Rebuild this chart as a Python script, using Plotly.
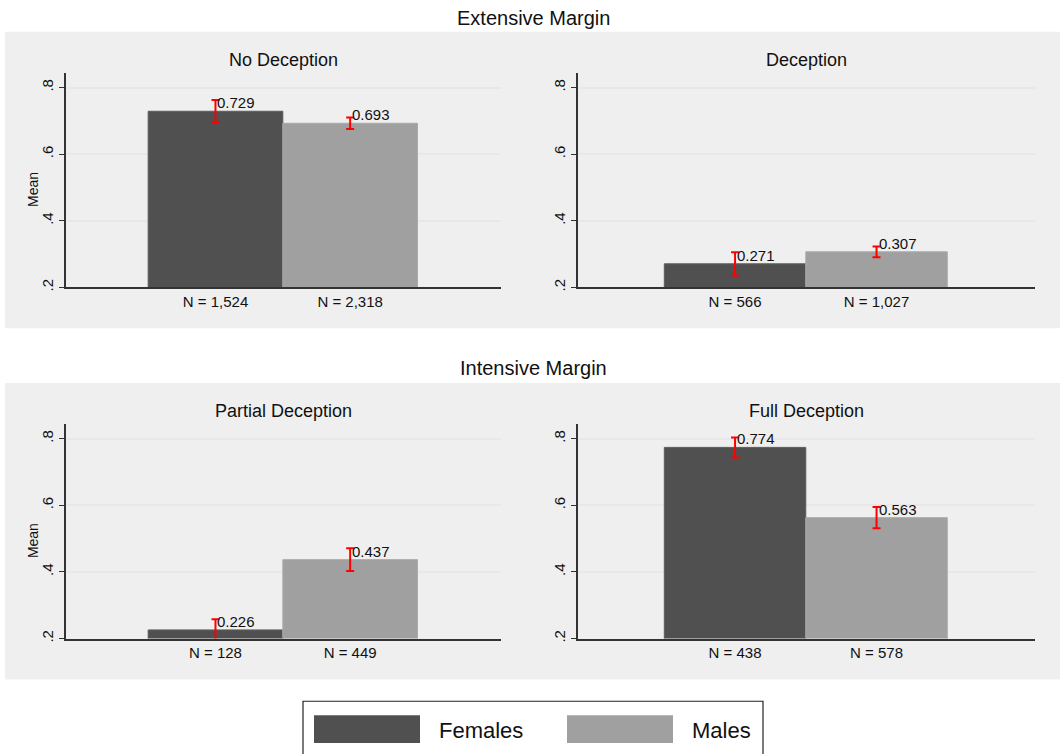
import plotly.graph_objects as go

# ---- data -------------------------------------------------------------
panels = ["No Deception", "Deception", "Partial Deception", "Full Deception"]
row_titles = ["Extensive Margin", "Intensive Margin"]
groups = ["Females", "Males"]
female_mean = [0.729, 0.271, 0.226, 0.774]
male_mean = [0.693, 0.307, 0.437, 0.563]
female_ci = [0.034, 0.035, 0.032, 0.030]
male_ci = [0.017, 0.016, 0.034, 0.032]
female_n = ["1,524", "566", "128", "438"]
male_n = ["2,318", "1,027", "449", "578"]
y_ticks = [0.2, 0.4, 0.6, 0.8]
y_tick_text = [".2", ".4", ".6", ".8"]

# ---- styling / layout -------------------------------------------------
W, H = 1064, 754
FONT = "Liberation Sans, Arial, sans-serif"
COLORS = ["#505050", "#a0a0a0"]
PANEL_BG = "#efefef"
AXIS_COL = "#333333"
GRID_COL = "#e8e8e8"


def px_x(p):
    return p / W


def px_y(p):
    return 1 - p / H


# plot areas in pixel coordinates: (left, right, top, bottom)
areas = [
    (66, 501, 73, 289),
    (578, 1035, 73, 289),
    (66, 501, 426, 642),
    (578, 1035, 426, 642),
]
# gray backgrounds per row: (left, right, top, bottom)
row_bg = [(5, 1060, 32, 330), (5, 1060, 385, 683)]
row_title_y = [18, 370]

fig = go.Figure()
layout = dict(
    width=W,
    height=H,
    margin=dict(l=0, r=0, t=0, b=0),
    paper_bgcolor="white",
    plot_bgcolor="white",
    showlegend=False,
    font=dict(family=FONT, color="#111111"),
)
shapes = []
annotations = []

for (l, r, t, b) in row_bg:
    shapes.append(dict(type="rect", xref="paper", yref="paper",
                       x0=px_x(l), x1=px_x(r), y0=px_y(b), y1=px_y(t),
                       fillcolor=PANEL_BG, line=dict(width=0), layer="below"))

for i, title in enumerate(row_titles):
    annotations.append(dict(text=title, xref="paper", yref="paper",
                            x=px_x(533), y=px_y(row_title_y[i]),
                            xanchor="center", yanchor="middle", showarrow=False,
                            font=dict(size=20, family=FONT, color="#111111")))

for k, name in enumerate(panels):
    l, r, t, b = areas[k]
    xa = "xaxis" if k == 0 else f"xaxis{k + 1}"
    ya = "yaxis" if k == 0 else f"yaxis{k + 1}"
    xr = "x" if k == 0 else f"x{k + 1}"
    yr = "y" if k == 0 else f"y{k + 1}"

    means = [female_mean[k], male_mean[k]]
    cis = [female_ci[k], male_ci[k]]
    fig.add_trace(go.Bar(
        x=[0, 1], y=means, width=1.0, xaxis=xr, yaxis=yr,
        marker=dict(color=COLORS, line=dict(color=["#5c5c5c", "#aaaaaa"], width=1)),
        error_y=dict(type="data", array=cis, visible=True,
                     color="#ff0000", thickness=2, width=4),
        hoverinfo="skip",
    ))

    layout[xa] = dict(
        domain=[px_x(l), px_x(r)], anchor=yr, range=[-1.11, 2.12],
        tickvals=[0, 1], ticktext=[f"N = {female_n[k]}", f"N = {male_n[k]}"],
        ticks="", showgrid=False, zeroline=False, showline=True,
        linecolor=AXIS_COL, linewidth=1.5,
        tickfont=dict(size=15, family=FONT, color="#111111"),
        fixedrange=True,
    )
    layout[ya] = dict(
        domain=[px_y(b), px_y(t)], anchor=xr, range=[0.2, 0.845],
        tickvals=y_ticks, ticktext=y_tick_text, tickangle=-90,
        ticks="outside", ticklen=5, tickcolor=AXIS_COL,
        showgrid=True, gridcolor=GRID_COL, gridwidth=1.5, zeroline=False,
        showline=True, linecolor=AXIS_COL, linewidth=1.5,
        tickfont=dict(size=15, family=FONT, color="#111111"),
        fixedrange=True,
    )

    # panel title
    annotations.append(dict(text=name, xref="paper", yref="paper",
                            x=px_x((l + r) / 2), y=px_y(t - 13),
                            xanchor="center", yanchor="middle", showarrow=False,
                            font=dict(size=18, family=FONT, color="#111111")))
    # y-axis title on the left column
    if k % 2 == 0:
        annotations.append(dict(text="Mean", xref="paper", yref="paper",
                                x=px_x(33), y=px_y((t + b) / 2 + 10),
                                xanchor="center", yanchor="middle", showarrow=False,
                                textangle=-90,
                                font=dict(size=14, family=FONT, color="#111111")))
    # value labels
    for j, v in enumerate(means):
        annotations.append(dict(text=f"{v:.3f}", xref=xr, yref=yr,
                                x=j, y=v, xanchor="left", yanchor="bottom",
                                xshift=0, yshift=-2, showarrow=False,
                                font=dict(size=15, family=FONT, color="#111111")))

# ---- legend box -------------------------------------------------------
shapes.append(dict(type="rect", xref="paper", yref="paper",
                   x0=px_x(303), x1=px_x(763), y0=px_y(760), y1=px_y(705),
                   fillcolor="white", line=dict(color="#222222", width=1.2)))
swatch_x = [(314, 420), (567, 673)]
label_x = [437, 690]
for g, name in enumerate(groups):
    x0, x1 = swatch_x[g]
    shapes.append(dict(type="rect", xref="paper", yref="paper",
                       x0=px_x(x0), x1=px_x(x1), y0=px_y(747), y1=px_y(719),
                       fillcolor=COLORS[g], line=dict(width=0)))
    annotations.append(dict(text=name, xref="paper", yref="paper",
                            x=px_x(label_x[g]), y=px_y(734),
                            xanchor="left", yanchor="middle", showarrow=False,
                            font=dict(size=22, family=FONT, color="#111111")))

layout["shapes"] = shapes
layout["annotations"] = annotations
fig.update_layout(**layout)
fig.write_html("out.html")
